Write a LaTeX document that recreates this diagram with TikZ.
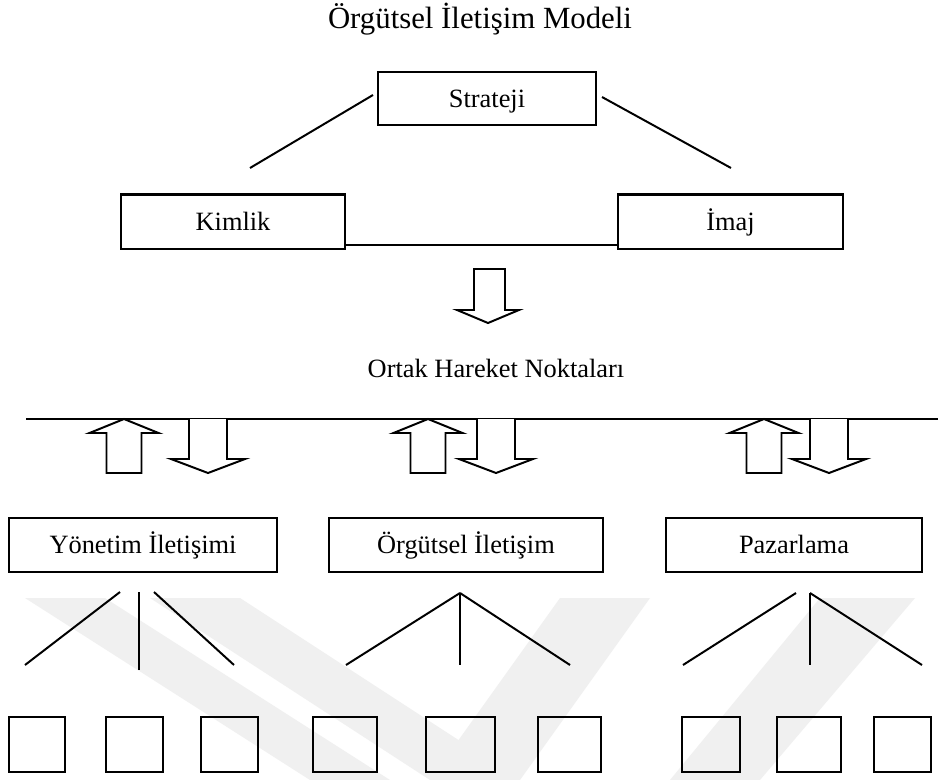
\documentclass[tikz,border=0pt]{standalone}
\usepackage{fontspec}
\setmainfont{Liberation Serif}
\newdimen\pxu
\pxu=0.45455pt
\begin{document}
\begin{tikzpicture}[x=0.45455pt,y=-0.45455pt,
  box/.style={draw,line width=1pt,inner sep=0pt,text height=23\pxu,text depth=6\pxu,
    font=\fontsize{12}{14}\selectfont},
  leaf/.style={draw,line width=1pt,inner sep=0pt,minimum height=55\pxu},
  link/.style={line width=0.9pt},
  blockarrow/.style={draw,line width=0.9pt,fill=white,line join=miter},
  shade/.style={fill=black!6,draw=none},
  uparr/.pic={\path[blockarrow] (0,0) -- (34.5,14) -- (17.5,14) -- (17.5,54)
      -- (-17.5,54) -- (-17.5,14) -- (-34.5,14) -- cycle;},
  downarr/.pic={\path[blockarrow] (-19,0) -- (-19,40) -- (-37,40) -- (0,54)
      -- (37,40) -- (19,40) -- (19,0);}
]
\useasboundingbox (0,0) rectangle (938,780);
\fill[white] (0,0) rectangle (938,780);

% faint background bands
\path[shade] (25,598) -- (105,598) -- (390,780) -- (310,780) -- cycle;
\path[shade] (150,598) -- (240,598) -- (520,780) -- (430,780) -- cycle;
\path[shade] (560,598) -- (650,598) -- (520,780) -- (430,780) -- cycle;
\path[shade] (820,598) -- (915,598) -- (760,780) -- (670,780) -- cycle;

% title
\node[anchor=base,font=\fontsize{14}{16}\selectfont] (title) at (480,28)
  {Örgütsel İletişim Modeli};

% strategy / identity / image
\node[box,minimum width=218\pxu,minimum height=53\pxu] (strat) at (487,98.5) {Strateji};
\node[box,minimum width=224\pxu,minimum height=54.5\pxu] (kim) at (233,221.75) {Kimlik};
\node[box,minimum width=225\pxu,minimum height=54.5\pxu] (imaj) at (730.5,221.75) {İmaj};

\coordinate (sl1) at (373,95);  \coordinate (sl2) at (250,168);
\coordinate (sr1) at (602,97);  \coordinate (sr2) at (731,168);
\draw[link] (sl1) -- (sl2);
\draw[link] (sr1) -- (sr2);
\draw[link] (kim.east |- 0,245) -- (imaj.west |- 0,245);

% downward block arrow
\path[blockarrow] (474,269) -- (505,269) -- (505,310) -- (519,310) -- (488,323)
  -- (457,310) -- (474,310) -- cycle;

\node[anchor=base,font=\fontsize{12}{14}\selectfont] (ortak) at (496,377)
  {Ortak Hareket Noktaları};

% common line with paired arrows
\coordinate (hl1) at (26,419); \coordinate (hl2) at (938,419);
\draw[link] (hl1) -- (hl2);
\pic at (124,419) {uparr};
\pic at (208,419) {downarr};
\pic at (428,419) {uparr};
\pic at (496,419) {downarr};
\pic at (764,419) {uparr};
\pic at (829,419) {downarr};

% three functional areas
\node[box,minimum width=268\pxu,minimum height=54\pxu] (yon) at (143,545) {Yönetim İletişimi};
\node[box,minimum width=274\pxu,minimum height=54\pxu] (org) at (466,545) {Örgütsel İletişim};
\node[box,minimum width=256\pxu,minimum height=54\pxu] (paz) at (794,545) {Pazarlama};

% fans
\draw[link] (120,592) -- (25,665);
\draw[link] (139,592) -- (139,670);
\draw[link] (154,592) -- (234,665);
\coordinate (oa) at (460,593);
\draw[link] (oa) -- (346,665);
\draw[link] (oa) -- (460,665);
\draw[link] (oa) -- (570,665);
\draw[link] (796,593) -- (683,665);
\coordinate (pa) at (810,593);
\draw[link] (pa) -- (810,665);
\draw[link] (pa) -- (922,665);

% empty sub-boxes
\node[leaf,minimum width=56\pxu] (b1) at (37,744.5) {};
\node[leaf,minimum width=57\pxu] (b2) at (134.5,744.5) {};
\node[leaf,minimum width=57\pxu] (b3) at (229.5,744.5) {};
\node[leaf,minimum width=64\pxu] (b4) at (345,744.5) {};
\node[leaf,minimum width=69\pxu] (b5) at (460.5,744.5) {};
\node[leaf,minimum width=63\pxu] (b6) at (569.5,744.5) {};
\node[leaf,minimum width=58\pxu] (b7) at (711,744.5) {};
\node[leaf,minimum width=64\pxu] (b8) at (809,744.5) {};
\node[leaf,minimum width=57\pxu] (b9) at (902.5,744.5) {};
\end{tikzpicture}
\end{document}
